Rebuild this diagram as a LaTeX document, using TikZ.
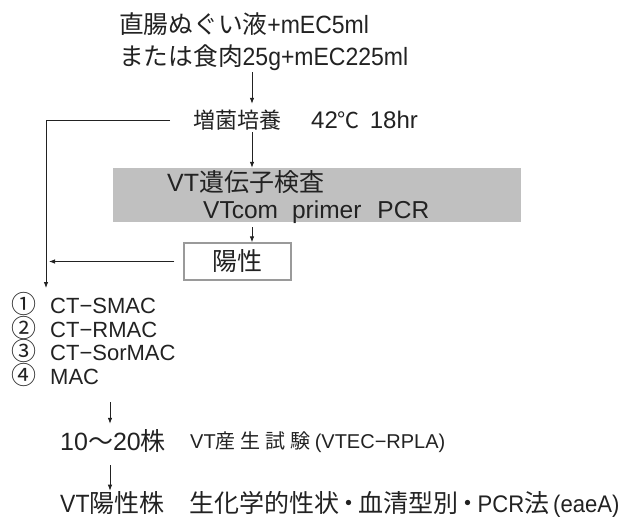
\documentclass[tikz,border=0pt]{standalone}
\usepackage{fontspec}
\setmainfont{Liberation Sans}
\newfontfamily\jp{Noto Sans CJK JP}
\newfontfamily\latc[FakeStretch=0.92]{Liberation Sans}
\usetikzlibrary{arrows.meta,calc}
\definecolor{graybg}{HTML}{C0C0C0}
\definecolor{boxline}{HTML}{9A9A9A}
\definecolor{inkc}{HTML}{222222}
\newcommand\JZ[2]{{\fontsize{#1}{#1}\selectfont\jp #2}}
\newcommand\LZ[2]{{\fontsize{#1}{#1}\selectfont #2}}
\newcommand\LC[2]{{\fontsize{#1}{#1}\selectfont\latc #2}}
\newcommand\nakaguro{\makebox[19pt][c]{\JZ{25}{・}}}
\tikzset{
  txt/.style={inner sep=0pt, anchor=base west, text=inkc},
  arr/.style={draw=inkc, line width=0.8pt, -{Latex[length=6pt,width=4.5pt]}},
  ln/.style={draw=inkc, line width=0.8pt},
  graybox/.style={fill=graybg, draw=none, inner sep=0pt, minimum width=408pt, minimum height=54pt},
  posbox/.style={draw=boxline, line width=1.3pt, fill=white, text=inkc, inner sep=0pt, minimum width=107pt, minimum height=37pt}
}
\begin{document}
\begin{tikzpicture}[x=1pt,y=-1pt]
\useasboundingbox (0,0) rectangle (626,520);
\coordinate (cA) at (252,0);
\coordinate (cB) at (110,0);
\coordinate (drop) at (46,288);

\node[txt] (l1) at (119,33.5) {\JZ{24.7}{直腸ぬぐい液}\LC{25}{+mEC5ml}};
\node[txt] (l2) at (119,65) {\JZ{24.7}{または食肉}\LC{25}{25g+mEC225ml}};
\node[txt] (incub) at (193,128.5) {\JZ{22}{増菌培養}\hspace{30pt}\LZ{24}{42}\JZ{22}{℃}\hspace{10pt}\LZ{24}{18hr}};
\node[graybox] (vt) at (317,195) {};
\node[txt] (vt1) at (167,191) {\LZ{25}{VT}\JZ{25}{遺伝子検査}};
\node[txt] (vt2) at (203,218) {\LZ{24.5}{VTcom\hspace{14pt}primer\hspace{16pt}PCR}};
\node[posbox] (pos) at (237.5,261.5) {\JZ{25}{陽性}};

\node[txt] (m1) at (11,313.5) {\makebox[39pt][l]{\JZ{25}{①}}\LZ{22}{CT−SMAC}};
\node[txt] (m2) at (11,337) {\makebox[39pt][l]{\JZ{25}{②}}\LZ{22}{CT−RMAC}};
\node[txt] (m3) at (11,360.5) {\makebox[39pt][l]{\JZ{25}{③}}\LZ{22}{CT−SorMAC}};
\node[txt] (m4) at (11,384) {\makebox[39pt][l]{\JZ{25}{④}}\LZ{22}{MAC}};

\node[txt] (n10) at (60,450) {\LZ{25}{10}\JZ{25}{～}\LZ{25}{20}\JZ{25}{株}};
\node[txt] (rpla) at (190,448) {\LZ{20}{VT}\JZ{20}{産\kern5pt 生\kern5pt 試\kern5pt 験\kern4pt}\LZ{20}{(VTEC−RPLA)}};
\node[txt] (last) at (60,512) {\LC{25}{VT}\JZ{25}{陽性株　生化学的性状}\nakaguro\JZ{25}{血清型別}\nakaguro\LC{24}{PCR}\JZ{25}{法}\hspace{4pt}\LC{24}{(eaeA)}};

\draw[arr, shorten <=2pt, shorten >=6pt] (l2.south -| cA) -- (incub.north -| cA);
\draw[arr, shorten <=2pt] (incub.south -| cA) -- (vt.north -| cA);
\draw[arr, shorten <=5pt] (vt.south -| cA) -- (pos.north -| cA);
\draw[arr] ([xshift=-23pt]incub.west) -| (drop);
\draw[arr, shorten >=3pt] ([xshift=-9pt]pos.west) -- (pos.west -| drop);
\draw[arr, shorten <=16pt, shorten >=5pt] (m4.south -| cB) -- (n10.north -| cB);
\draw[arr, shorten <=13pt] (n10.south -| cB) -- (last.north -| cB);
\end{tikzpicture}
\end{document}
